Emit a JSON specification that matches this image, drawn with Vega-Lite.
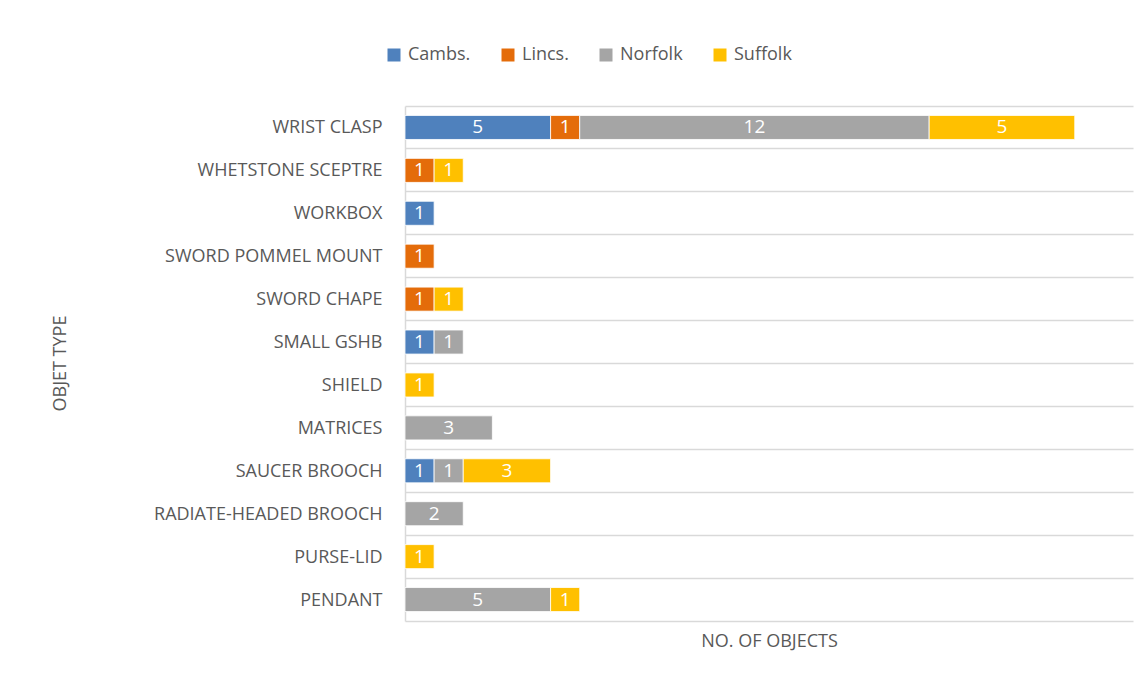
{
  "$schema": "https://vega.github.io/schema/vega-lite/v6.json",
  "width": 728,
  "height": 515,
  "autosize": {"type": "none"},
  "padding": {"left": 405, "top": 106, "right": 13, "bottom": 60},
  "background": "white",
  "config": {
    "view": {"stroke": null},
    "font": "Open Sans",
    "text": {"font": "Open Sans"}
  },
  "data": {
    "values": [
      {"type": "WRIST CLASP", "county": "Cambs.", "n": 5},
      {"type": "WRIST CLASP", "county": "Lincs.", "n": 1},
      {"type": "WRIST CLASP", "county": "Norfolk", "n": 12},
      {"type": "WRIST CLASP", "county": "Suffolk", "n": 5},
      {"type": "WHETSTONE SCEPTRE", "county": "Lincs.", "n": 1},
      {"type": "WHETSTONE SCEPTRE", "county": "Suffolk", "n": 1},
      {"type": "WORKBOX", "county": "Cambs.", "n": 1},
      {"type": "SWORD POMMEL MOUNT", "county": "Lincs.", "n": 1},
      {"type": "SWORD CHAPE", "county": "Lincs.", "n": 1},
      {"type": "SWORD CHAPE", "county": "Suffolk", "n": 1},
      {"type": "SMALL GSHB", "county": "Cambs.", "n": 1},
      {"type": "SMALL GSHB", "county": "Norfolk", "n": 1},
      {"type": "SHIELD", "county": "Suffolk", "n": 1},
      {"type": "MATRICES", "county": "Norfolk", "n": 3},
      {"type": "SAUCER BROOCH", "county": "Cambs.", "n": 1},
      {"type": "SAUCER BROOCH", "county": "Norfolk", "n": 1},
      {"type": "SAUCER BROOCH", "county": "Suffolk", "n": 3},
      {"type": "RADIATE-HEADED BROOCH", "county": "Norfolk", "n": 2},
      {"type": "PURSE-LID", "county": "Suffolk", "n": 1},
      {"type": "PENDANT", "county": "Norfolk", "n": 5},
      {"type": "PENDANT", "county": "Suffolk", "n": 1}
    ]
  },
  "encoding": {
    "y": {
      "field": "type",
      "type": "nominal",
      "sort": null,
      "scale": {"paddingInner": 0, "paddingOuter": 0},
      "axis": {
        "title": "OBJET TYPE",
        "titleFont": "Open Sans",
        "titleFontSize": 18,
        "titleFontWeight": "normal",
        "titleColor": "#595959",
        "titleX": -345,
        "titleY": 257,
        "titleAngle": -90,
        "titleAlign": "center",
        "titleBaseline": "middle",
        "labelFont": "Open Sans",
        "labelFontSize": 18,
        "labelColor": "#595959",
        "labelPadding": 23,
        "labelLimit": 0,
        "labelOffset": 1,
        "ticks": false,
        "domain": true,
        "domainColor": "#d9d9d9",
        "domainWidth": 1.5,
        "grid": true,
        "gridColor": "#d9d9d9",
        "gridWidth": 1.5,
        "bandPosition": 0
      }
    }
  },
  "layer": [
    {
      "mark": {"type": "bar", "height": {"band": 0.56}, "stroke": "white", "strokeWidth": 0.8},
      "encoding": {
        "x": {
          "field": "n",
          "type": "quantitative",
          "stack": "zero",
          "scale": {"domain": [0, 25], "nice": false},
          "axis": {
            "title": "NO. OF OBJECTS",
            "titleFont": "Open Sans",
            "titleFontSize": 18,
            "titleFontWeight": "normal",
            "titleColor": "#595959",
            "titlePadding": 11,
            "labels": false,
            "ticks": false,
            "grid": false,
            "domain": true,
            "domainColor": "#d9d9d9",
            "domainWidth": 1.5
          }
        },
        "color": {
          "field": "county",
          "type": "nominal",
          "scale": {
            "domain": ["Cambs.", "Lincs.", "Norfolk", "Suffolk"],
            "range": ["#4f81bd", "#e46c0a", "#a5a5a5", "#ffc000"]
          },
          "legend": {
            "title": null,
            "orient": "none",
            "direction": "horizontal",
            "legendX": -20,
            "legendY": -60,
            "symbolType": "square",
            "symbolSize": 169,
            "symbolStrokeWidth": 0,
            "labelFont": "Open Sans",
            "labelFontSize": 18,
            "labelColor": "#595959",
            "labelOffset": 5,
            "columnPadding": 28
          }
        },
        "order": {"field": "county"}
      }
    },
    {
      "mark": {"type": "text", "color": "white", "fontSize": 19, "font": "Open Sans", "align": "center", "baseline": "middle"},
      "encoding": {
        "x": {"field": "n", "type": "quantitative", "stack": "zero", "bandPosition": 0.5},
        "text": {"field": "n", "type": "quantitative"},
        "detail": {"field": "county"},
        "order": {"field": "county"}
      }
    }
  ]
}
